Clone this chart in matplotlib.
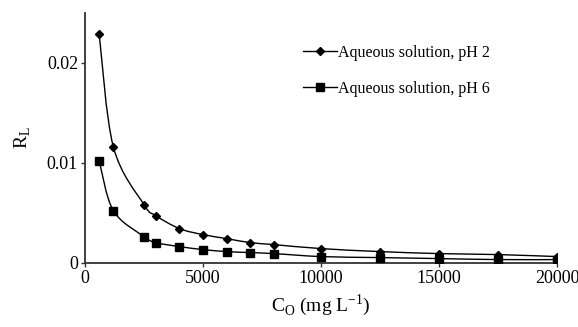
import matplotlib.pyplot as plt
from matplotlib.path import Path
from matplotlib.patches import PathPatch
from matplotlib.lines import Line2D

plt.rcParams['font.family'] = 'Liberation Serif'

c0 = [600, 1200, 2500, 3000, 4000, 5000, 6000, 7000, 8000, 10000, 12500, 15000, 17500, 20000]
rl_ph2 = [0.0229, 0.0116, 0.0058, 0.0047, 0.0034, 0.0028, 0.0024, 0.0020, 0.0018,
          0.0014, 0.0011, 0.0009, 0.0008, 0.0006]
rl_ph6 = [0.0102, 0.0052, 0.0026, 0.0020, 0.0016, 0.0013, 0.0011, 0.0010, 0.0009,
          0.0006, 0.0005, 0.0004, 0.0003, 0.0003]
labels = ['Aqueous solution, pH 2', 'Aqueous solution, pH 6']


def smooth_path(xs, ys):
    # Catmull-Rom style curve through the points, drawn as cubic beziers
    pts = list(zip(xs, ys))
    verts = [pts[0]]
    codes = [Path.MOVETO]
    n = len(pts)
    for i in range(n - 1):
        p0 = pts[i - 1] if i > 0 else pts[i]
        p1 = pts[i]
        p2 = pts[i + 1]
        p3 = pts[i + 2] if i + 2 < n else pts[i + 1]
        c1 = (p1[0] + (p2[0] - p0[0]) / 6, p1[1] + (p2[1] - p0[1]) / 6)
        c2 = (p2[0] - (p3[0] - p1[0]) / 6, p2[1] - (p3[1] - p1[1]) / 6)
        verts += [c1, c2, p2]
        codes += [Path.CURVE4] * 3
    return Path(verts, codes)


fig = plt.figure(figsize=(5.78, 3.27), dpi=100)
ax = fig.add_axes([0.147, 0.197, 0.817, 0.764])

for ys, mk, ms in [(rl_ph2, 'D', 4.5), (rl_ph6, 's', 6)]:
    ax.add_patch(PathPatch(smooth_path(c0, ys), facecolor='none', edgecolor='black', lw=1.0))
    ax.plot(c0, ys, linestyle='none', marker=mk, color='black', markersize=ms)

handles = [Line2D([], [], color='black', lw=1.0, marker='D', markersize=4.5),
           Line2D([], [], color='black', lw=1.0, marker='s', markersize=5.5)]
ax.legend(handles, labels, loc='upper left', bbox_to_anchor=(0.432, 0.93), frameon=False,
          fontsize=11.5, handlelength=2.1, handletextpad=0.1, labelspacing=1.25)

ax.set_xlim(0, 20000)
ax.set_ylim(0, 0.025)
ax.set_xticks([0, 5000, 10000, 15000, 20000])
ax.set_xticklabels(['0', '5000', '10000', '15000', '20000'])
ax.set_yticks([0, 0.01, 0.02])
ax.set_yticklabels(['0', '0.01', '0.02'])
ax.tick_params(labelsize=13, length=3, width=1, color='#333333', pad=2)
for s in ['top', 'right']:
    ax.spines[s].set_visible(False)
for s in ['left', 'bottom']:
    ax.spines[s].set_linewidth(1.3)
    ax.spines[s].set_color('#333333')
    ax.spines[s].set_zorder(0)

ax.set_xlabel(r'C$_\mathregular{O}$ (mg L$^\mathregular{-1}$)', fontsize=14, labelpad=4)
ax.set_ylabel(r'R$_\mathregular{L}$', fontsize=14, labelpad=10)

fig.savefig('out.png', dpi=100)
